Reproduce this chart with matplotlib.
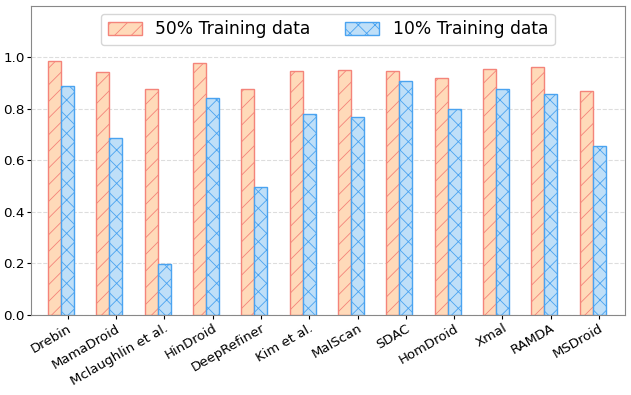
import numpy as np
import matplotlib.pyplot as plt

methods = ['Drebin', 'MamaDroid', 'Mclaughlin et al.', 'HinDroid', 'DeepRefiner',
           'Kim et al.', 'MalScan', 'SDAC', 'HomDroid', 'Xmal', 'RAMDA', 'MSDroid']
train_50 = [0.987, 0.943, 0.876, 0.979, 0.879, 0.948, 0.952, 0.948, 0.920, 0.956, 0.964, 0.869]
train_10 = [0.890, 0.685, 0.198, 0.842, 0.497, 0.782, 0.769, 0.908, 0.800, 0.876, 0.859, 0.654]

plt.rcParams['hatch.linewidth'] = 0.6

fig, ax = plt.subplots(figsize=(6.31, 3.95), dpi=100)
x = np.arange(len(methods))
w = 0.27

ax.bar(x, train_50, w, facecolor='#FFDAB9', edgecolor='#F4847A', hatch='//',
       linewidth=1, label='50% Training data')
ax.bar(x + w, train_10, w, facecolor='#BFDFF8', edgecolor='#4AA3F0', hatch='xx',
       linewidth=1, label='10% Training data')

ax.set_ylim(0, 1.2)
ax.set_xlim(-0.49, 11.8)
ax.set_yticks([0.0, 0.2, 0.4, 0.6, 0.8, 1.0])
ax.set_xticks(x + w)
ax.set_xticklabels(methods, rotation=30, ha='right', rotation_mode='anchor', fontsize=9.5)
ax.tick_params(axis='y', labelsize=9.7, pad=1.5, length=3)
ax.tick_params(axis='x', length=3, pad=2)
ax.yaxis.grid(True, linestyle='--', color='#dddddd', linewidth=0.8)
ax.set_axisbelow(True)
for s in ax.spines.values():
    s.set_color('#888888')

ax.legend(loc='upper center', ncol=2, fontsize=12.3, handlelength=2.0,
          handleheight=0.75, columnspacing=2.0, borderaxespad=0.45)

plt.subplots_adjust(left=0.049, right=0.990, top=0.985, bottom=0.203)
plt.savefig('out.png')
